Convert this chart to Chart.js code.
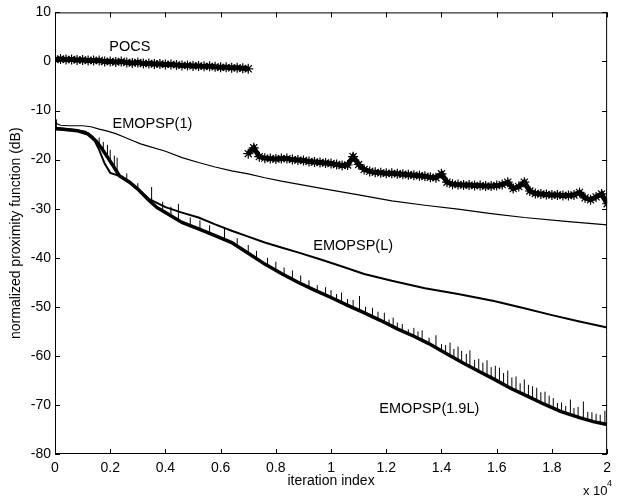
<!DOCTYPE html>
<html>
<head>
<meta charset="utf-8">
<script src="https://cdn.jsdelivr.net/npm/chart.js@4.4.1/dist/chart.umd.min.js"></script>
<style>
  html, body { margin: 0; padding: 0; background: #fff; }
  #wrap { width: 617px; height: 502px; }
</style>
</head>
<body>
<div id="wrap"><canvas id="proxChart" width="617" height="502"></canvas></div>
<script>
// iteration index is in units of 1e4 (axis shows "x 10^4")

// POCS, first run (stars)
const pocsX1 = [0, 0.02, 0.04, 0.06, 0.08, 0.10, 0.12, 0.14, 0.16, 0.18, 0.20, 0.22, 0.24, 0.26, 0.28, 0.30, 0.32, 0.34,
  0.36, 0.38, 0.40, 0.42, 0.44, 0.46, 0.48, 0.50, 0.52, 0.54, 0.56, 0.58, 0.60, 0.62, 0.64, 0.66, 0.68, 0.70];
const pocsY1 = [0.4, 0.5, 0.4, 0.4, 0.3, 0.3, 0.2, 0.2, 0.2, 0.0, 0.0, -0.1, 0.0, -0.2, -0.3, -0.2, -0.4, -0.4,
  -0.5, -0.5, -0.6, -0.6, -0.7, -0.8, -0.8, -0.9, -0.9, -1.0, -1.0, -1.1, -1.2, -1.2, -1.3, -1.3, -1.4, -1.5];

// POCS, second run (stars)
const pocsX2 = [0.70, 0.72, 0.74, 0.76, 0.78, 0.80, 0.82, 0.84, 0.86, 0.88, 0.90, 0.92, 0.94, 0.96, 0.98, 1.00, 1.02,
  1.04, 1.06, 1.08, 1.10, 1.12, 1.14, 1.16, 1.18, 1.20, 1.22, 1.24, 1.26, 1.28, 1.30, 1.32, 1.34, 1.36, 1.38, 1.40,
  1.42, 1.44, 1.46, 1.48, 1.50, 1.52, 1.54, 1.56, 1.58, 1.60, 1.62, 1.64, 1.66, 1.68, 1.70, 1.72, 1.74, 1.76, 1.78,
  1.80, 1.82, 1.84, 1.86, 1.88, 1.90, 1.92, 1.94, 1.96, 1.98, 2.00];
const pocsY2 = [-18.8, -17.6, -19.4, -19.7, -19.8, -19.9, -19.8, -19.8, -20.0, -20.1, -20.2, -20.4, -20.5, -20.6, -20.7,
  -20.8, -21.0, -21.2, -21.1, -19.4, -21.0, -22.0, -22.4, -22.6, -22.7, -22.8, -22.8, -22.9, -23.0, -23.1, -23.2,
  -23.3, -23.4, -23.6, -23.7, -22.9, -24.6, -25.0, -25.1, -25.2, -25.2, -25.3, -25.3, -25.4, -25.4, -25.3, -25.1,
  -24.6, -25.9, -25.5, -24.6, -26.4, -26.9, -27.0, -27.1, -27.2, -27.2, -27.3, -27.3, -27.2, -26.7, -27.8, -28.2,
  -27.6, -27.0, -29.0];

// EMOPSP(1)
const emo1X = [0, 0.02, 0.05, 0.10, 0.13, 0.16, 0.19, 0.22, 0.25, 0.28, 0.31, 0.34, 0.40, 0.46, 0.52, 0.58, 0.64,
  0.70, 0.76, 0.82, 0.88, 0.98, 1.10, 1.22, 1.34, 1.46, 1.58, 1.70, 1.85, 2.00];
const emo1Y = [-12.5, -13.0, -13.1, -13.1, -13.3, -13.8, -14.2, -14.7, -15.4, -16.1, -16.8, -17.3, -18.3, -19.6,
  -20.6, -21.5, -22.3, -22.9, -23.7, -24.4, -25.0, -26.0, -27.2, -28.4, -29.3, -30.1, -31.0, -31.8, -32.6, -33.3];

// EMOPSP(L)
const emoLX = [0, 0.03, 0.08, 0.11, 0.137, 0.16, 0.18, 0.20, 0.233, 0.27, 0.30, 0.34, 0.40, 0.46, 0.52, 0.58, 0.64,
  0.70, 0.76, 0.82, 0.88, 0.96, 1.04, 1.12, 1.22, 1.34, 1.46, 1.59, 1.70, 1.80, 1.90, 2.00];
const emoLY = [-13.5, -13.7, -14.0, -14.3, -15.4, -18.0, -20.8, -22.7, -23.3, -24.6, -26.0, -28.0, -29.7, -30.8,
  -31.8, -33.2, -34.5, -35.7, -36.9, -37.9, -38.9, -40.3, -41.8, -43.3, -44.7, -46.2, -47.4, -48.8, -50.3, -51.7,
  -53.0, -54.2];

// EMOPSP(1.9L) base curve
const emo19X = [0, 0.03, 0.08, 0.12, 0.15, 0.17, 0.19, 0.21, 0.233, 0.27, 0.30, 0.34, 0.37, 0.40, 0.46, 0.52, 0.58,
  0.64, 0.70, 0.76, 0.82, 0.88, 0.94, 1.00, 1.06, 1.115, 1.18, 1.24, 1.30, 1.354, 1.42, 1.48, 1.54, 1.592, 1.65,
  1.711, 1.77, 1.831, 1.90, 1.95, 2.00];
const emo19Y = [-13.7, -13.8, -14.1, -14.8, -16.3, -17.8, -19.5, -21.2, -23.3, -24.6, -26.0, -28.3, -29.8, -30.8,
  -32.8, -34.1, -35.5, -36.9, -39.1, -41.3, -43.2, -45.0, -46.6, -48.1, -49.7, -51.1, -52.8, -54.5, -56.0, -57.5,
  -59.6, -61.5, -63.3, -64.8, -66.6, -68.2, -69.8, -71.3, -72.6, -73.4, -74.0];

// EMOPSP(1.9L) upward spikes: position, curve level, spike top
const spikeX = [0.005, 0.16, 0.175, 0.19, 0.20, 0.215, 0.225, 0.26, 0.30, 0.35, 0.39, 0.42, 0.447, 0.49, 0.525, 0.56,
  0.614, 0.66, 0.70, 0.73, 0.77, 0.80, 0.83, 0.86, 0.89, 0.92, 0.95, 0.98, 1.00, 1.02, 1.038, 1.06, 1.08, 1.103,
  1.125, 1.15, 1.17, 1.193, 1.21, 1.225, 1.24, 1.258, 1.28, 1.30, 1.315, 1.33, 1.355, 1.38, 1.40, 1.415, 1.431,
  1.445, 1.46, 1.473, 1.49, 1.503, 1.52, 1.535, 1.55, 1.565, 1.58, 1.595, 1.61, 1.625, 1.64, 1.655, 1.67, 1.685,
  1.70, 1.715, 1.73, 1.745, 1.76, 1.775, 1.79, 1.805, 1.82, 1.835, 1.85, 1.867, 1.88, 1.895, 1.914, 1.93, 1.945,
  1.96, 1.975, 1.992];
const spikeBase = [-13.7, -17.0, -18.2, -19.5, -20.3, -21.6, -22.5, -24.3, -26.0, -28.8, -30.5, -31.5, -32.4, -33.5,
  -34.2, -35.0, -36.3, -37.6, -39.1, -40.2, -41.6, -42.6, -43.5, -44.4, -45.3, -46.1, -46.9, -47.6, -48.1, -48.6,
  -49.2, -49.7, -50.2, -50.8, -51.4, -52.0, -52.5, -53.1, -53.7, -54.1, -54.5, -55.0, -55.5, -56.0, -56.4, -56.8,
  -57.5, -58.3, -59.0, -59.4, -59.9, -60.4, -60.9, -61.3, -61.8, -62.2, -62.7, -63.1, -63.6, -64.0, -64.4, -64.9,
  -65.3, -65.8, -66.3, -66.7, -67.1, -67.5, -67.9, -68.3, -68.7, -69.1, -69.5, -69.9, -70.3, -70.7, -71.0, -71.4,
  -71.7, -72.0, -72.2, -72.5, -72.8, -73.0, -73.3, -73.5, -73.7, -73.9];
const spikeTop = [-11.8, -15.5, -16.4, -17.0, -18.0, -19.2, -19.6, -22.8, -24.8, -25.6, -28.6, -29.6, -29.0, -31.8,
  -32.4, -33.4, -34.1, -36.0, -37.4, -38.6, -40.0, -40.8, -42.0, -42.6, -43.6, -44.6, -45.6, -46.0, -46.6, -47.4,
  -47.1, -48.4, -48.6, -47.8, -50.0, -50.2, -51.0, -51.2, -52.6, -52.2, -53.2, -53.5, -54.6, -54.3, -55.0, -54.8,
  -56.3, -55.8, -57.6, -57.8, -57.3, -58.6, -58.1, -59.0, -59.6, -58.9, -60.8, -60.6, -61.4, -60.9, -62.3, -62.0,
  -62.4, -63.5, -63.0, -64.4, -64.2, -65.6, -64.8, -65.9, -66.2, -66.5, -67.4, -67.3, -68.1, -68.6, -69.6, -69.5,
  -70.2, -68.9, -70.6, -70.4, -69.3, -71.4, -71.5, -71.8, -72.0, -71.2];

// curve labels
const labelText = ["POCS", "EMOPSP(1)", "EMOPSP(L)", "EMOPSP(1.9L)"];
const labelX = [0.271, 0.353, 1.08, 1.356];
const labelY = [2.9, -12.8, -37.6, -70.8];

const xTicks = [0, 0.2, 0.4, 0.6, 0.8, 1, 1.2, 1.4, 1.6, 1.8, 2];
const yTicks = [10, 0, -10, -20, -30, -40, -50, -60, -70, -80];

const FONT = "'Liberation Sans', Arial, Helvetica, sans-serif";
Chart.defaults.font.family = FONT;
Chart.defaults.color = "#000";

function pts(xs, ys) {
  return xs.map((x, i) => ({ x: x, y: ys[i] }));
}

const spikePts = [];
spikeX.forEach((x, i) => {
  spikePts.push({ x: x, y: spikeBase[i] });
  spikePts.push({ x: x, y: spikeTop[i] });
  spikePts.push({ x: x, y: null });
});

function starSet(data) {
  return {
    data: data,
    showLine: true,
    borderColor: "#000",
    borderWidth: 5,
    pointStyle: "star",
    pointRadius: 5,
    pointBorderWidth: 1.2,
    pointBorderColor: "#000",
    pointBackgroundColor: "#000"
  };
}

function lineSet(data, w) {
  return {
    data: data,
    showLine: true,
    borderColor: "#000",
    borderWidth: w,
    pointRadius: 0,
    tension: 0,
    fill: false
  };
}

// frame with inward ticks on all four sides, curve names, exponent
const framePlugin = {
  id: "frame",
  afterDatasetsDraw(chart) {
    const c = chart.ctx;
    const a = chart.chartArea;
    const sx = chart.scales.x, sy = chart.scales.y;
    c.save();
    c.strokeStyle = "#000";
    c.lineWidth = 1;
    c.strokeRect(a.left + 0.5, a.top + 0.5, a.right - a.left - 1, a.bottom - a.top - 1);
    c.beginPath();
    xTicks.forEach(v => {
      const px = Math.round(sx.getPixelForValue(v)) + 0.5;
      c.moveTo(px, a.bottom); c.lineTo(px, a.bottom - 5);
      c.moveTo(px, a.top); c.lineTo(px, a.top + 5);
    });
    yTicks.forEach(v => {
      const py = Math.round(sy.getPixelForValue(v)) + 0.5;
      c.moveTo(a.left, py); c.lineTo(a.left + 5, py);
      c.moveTo(a.right, py); c.lineTo(a.right - 5, py);
    });
    c.stroke();

    c.fillStyle = "#000";
    c.font = "14.5px " + FONT;
    c.textAlign = "center";
    c.textBaseline = "middle";
    labelText.forEach((t, i) => {
      c.fillText(t, sx.getPixelForValue(labelX[i]), sy.getPixelForValue(labelY[i]));
    });

    c.textAlign = "left";
    c.font = "13px " + FONT;
    c.fillText("x 10", 583, 491);
    c.font = "9px " + FONT;
    c.fillText("4", 607, 484);
    c.restore();
  }
};

const ctx = document.getElementById("proxChart").getContext("2d");
const proxChart = new Chart(ctx, {
  type: "scatter",
  data: {
    datasets: [
      starSet(pts(pocsX1, pocsY1)),
      starSet(pts(pocsX2, pocsY2)),
      lineSet(pts(emo1X, emo1Y), 1.2),
      lineSet(pts(emoLX, emoLY), 2),
      lineSet(pts(emo19X, emo19Y), 3.5),
      lineSet(spikePts, 1)
    ]
  },
  options: {
    responsive: false,
    animation: false,
    devicePixelRatio: 1,
    layout: { padding: { top: 12, right: 3, left: 0, bottom: 0 } },
    plugins: { legend: { display: false }, tooltip: { enabled: false } },
    scales: {
      x: {
        type: "linear",
        min: 0,
        max: 2,
        grid: { display: false, drawTicks: false },
        border: { display: false },
        afterBuildTicks: s => { s.ticks = xTicks.map(v => ({ value: v })); },
        ticks: {
          font: { size: 14 },
          padding: 6,
          maxRotation: 0,
          autoSkip: false,
          callback: v => String(Math.round(v * 10) / 10)
        },
        title: {
          display: true,
          text: "iteration index",
          font: { size: 14 },
          padding: { top: 0, bottom: 12 }
        },
        afterFit: s => { s.height = 48; }
      },
      y: {
        min: -80,
        max: 10,
        grid: { display: false, drawTicks: false },
        border: { display: false },
        afterBuildTicks: s => { s.ticks = yTicks.map(v => ({ value: v })); },
        ticks: { font: { size: 14 }, padding: 4, autoSkip: false },
        title: {
          display: true,
          text: "normalized proximity function (dB)",
          font: { size: 14 },
          padding: { top: 8, bottom: 0 }
        },
        afterFit: s => { s.width = 55; }
      }
    }
  },
  plugins: [framePlugin]
});
</script>
</body>
</html>
